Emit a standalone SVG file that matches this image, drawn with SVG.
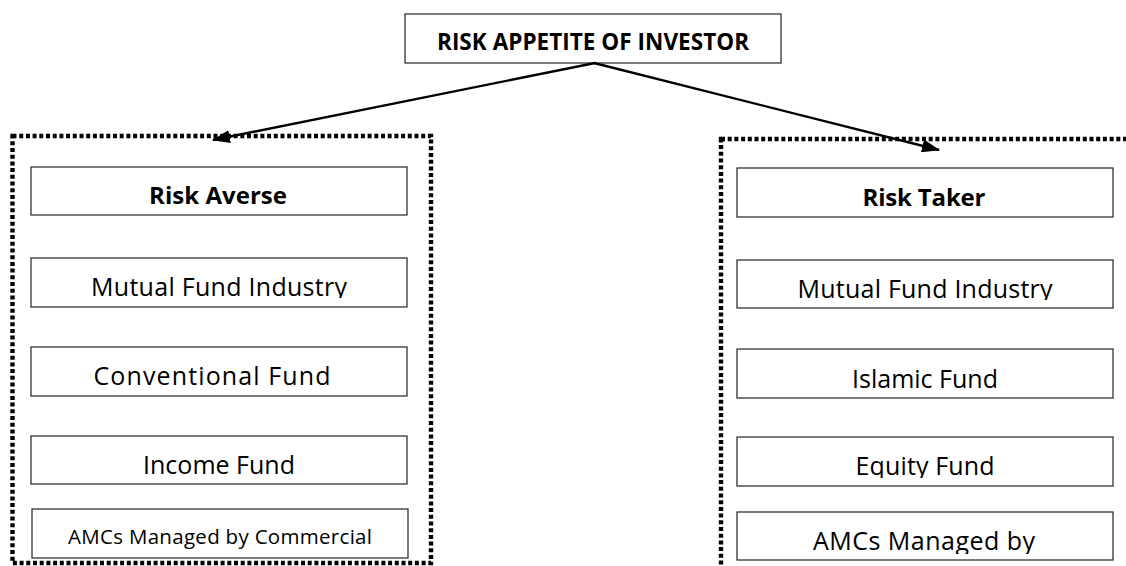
<svg xmlns="http://www.w3.org/2000/svg" width="1126" height="566" viewBox="0 0 1126 566">
  <style>
    .box { fill: #ffffff; stroke: #333333; stroke-width: 1.3; }
    .group { fill: none; stroke: #000000; stroke-width: 4.4; stroke-dasharray: 4 2.7; }
    .link { fill: none; stroke: #000000; stroke-width: 2.4; }
    .t { font-family: "Open Sans", "Liberation Sans", sans-serif; font-size: 25px; fill: #000000; text-anchor: middle; }
    .b { font-weight: bold; font-size: 24px; }
    .title { font-size: 22.5px; }
    .s { font-size: 20.5px; }
  </style>
  <defs>
    <marker id="arrow" viewBox="0 0 18 13" refX="17" refY="6.5" markerWidth="18" markerHeight="13" markerUnits="userSpaceOnUse" orient="auto">
      <path d="M0,0 L18,6.5 L0,13 Z" fill="#000000"/>
    </marker>
    <clipPath id="clipL2"><rect x="31" y="258" width="376" height="40"/></clipPath>
    <clipPath id="clipR2"><rect x="737" y="260" width="376" height="40"/></clipPath>
    <clipPath id="clipR4"><rect x="737" y="437" width="376" height="41"/></clipPath>
    <clipPath id="clipR5"><rect x="737" y="512" width="376" height="42"/></clipPath>
  </defs>

  <!-- dotted group frames -->
  <rect id="group-averse" class="group" x="12.5" y="136" width="418.5" height="427"/>
  <rect id="group-taker" class="group" x="721" y="139" width="500" height="500"/>

  <!-- root -->
  <g id="root">
    <rect class="box" x="405" y="14" width="376" height="49"/>
    <text class="t b title" x="593" y="50" textLength="312">RISK APPETITE OF INVESTOR</text>
  </g>

  <!-- left column -->
  <g id="risk-averse">
    <rect class="box" x="31" y="167" width="376" height="48"/>
    <text class="t b" x="218" y="204" textLength="138">Risk Averse</text>
  </g>
  <g id="averse-industry">
    <rect class="box" x="31" y="258" width="376" height="49"/>
    <text class="t" x="219" y="296" textLength="256" clip-path="url(#clipL2)">Mutual Fund Industry</text>
  </g>
  <g id="conventional-fund">
    <rect class="box" x="31" y="347" width="376" height="49"/>
    <text class="t" x="212" y="385" textLength="237">Conventional Fund</text>
  </g>
  <g id="income-fund">
    <rect class="box" x="31" y="436" width="376" height="48"/>
    <text class="t" x="219" y="474" textLength="152">Income Fund</text>
  </g>
  <g id="averse-amcs">
    <rect class="box" x="32" y="509" width="376" height="49"/>
    <text class="t s" x="220" y="544" textLength="304">AMCs Managed by Commercial</text>
  </g>

  <!-- right column -->
  <g id="risk-taker">
    <rect class="box" x="737" y="168" width="376" height="49"/>
    <text class="t b" x="924" y="206" textLength="123">Risk Taker</text>
  </g>
  <g id="taker-industry">
    <rect class="box" x="737" y="260" width="376" height="48"/>
    <text class="t" x="925" y="298" textLength="255" clip-path="url(#clipR2)">Mutual Fund Industry</text>
  </g>
  <g id="islamic-fund">
    <rect class="box" x="737" y="349" width="376" height="49"/>
    <text class="t" x="925" y="388" textLength="146">Islamic Fund</text>
  </g>
  <g id="equity-fund">
    <rect class="box" x="737" y="437" width="376" height="49"/>
    <text class="t" x="925" y="475" textLength="139" clip-path="url(#clipR4)">Equity Fund</text>
  </g>
  <g id="taker-amcs">
    <rect class="box" x="737" y="512" width="376" height="48"/>
    <text class="t" x="924" y="550" textLength="222" clip-path="url(#clipR5)">AMCs Managed by</text>
  </g>

  <!-- connectors -->
  <g id="connectors">
    <line class="link" x1="595" y1="63" x2="213" y2="140" marker-end="url(#arrow)"/>
    <line class="link" x1="594" y1="63" x2="939" y2="150" marker-end="url(#arrow)"/>
  </g>
</svg>
